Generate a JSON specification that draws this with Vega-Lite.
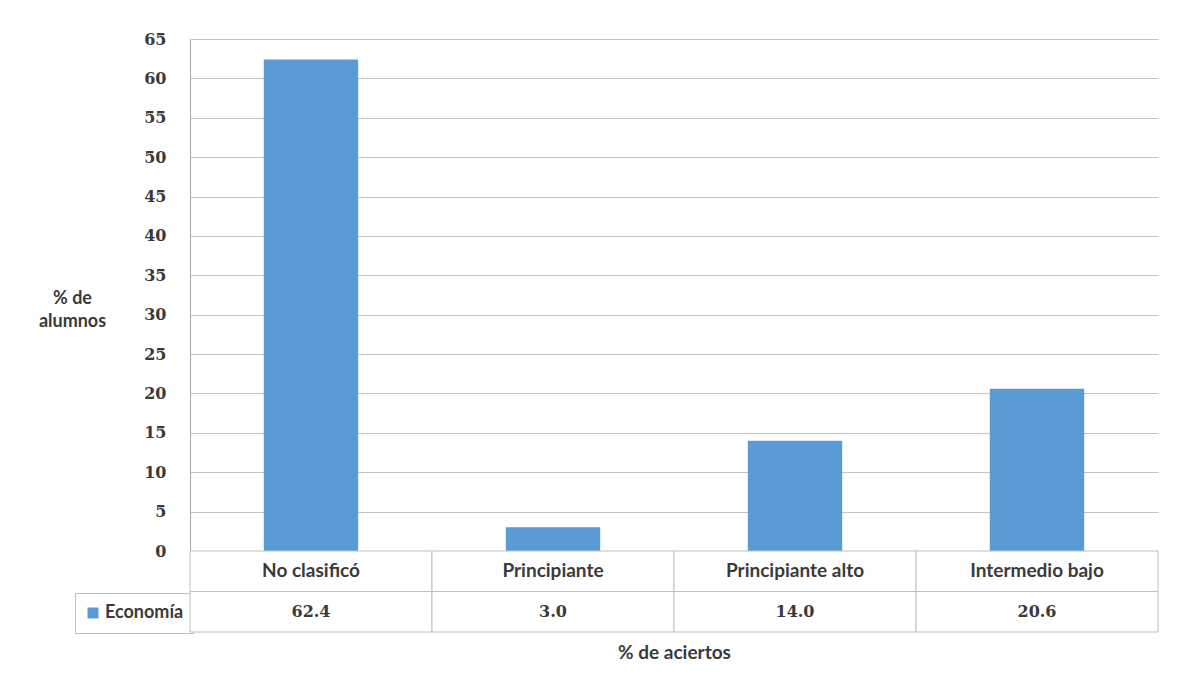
{
  "$schema": "https://vega.github.io/schema/vega-lite/v6.json",
  "padding": {"left": 38, "top": 31, "right": 20, "bottom": 10},
  "background": "white",
  "bounds": "flush",
  "spacing": 0,
  "config": {
    "view": {"stroke": null},
    "legend": {"labelFont": "Lato", "labelFontSize": 18, "labelFontWeight": "bold", "labelColor": "#3a3a3a"}
  },
  "resolve": {"scale": {"color": "independent"}},
  "datasets": {
    "d": [
      {"nivel": "No clasificó", "pct": 62.4, "serie": "Economía"},
      {"nivel": "Principiante", "pct": 3.0, "serie": "Economía"},
      {"nivel": "Principiante alto", "pct": 14.0, "serie": "Economía"},
      {"nivel": "Intermedio bajo", "pct": 20.6, "serie": "Economía"}
    ]
  },
  "vconcat": [
    {
      "width": 968,
      "height": 512,
      "data": {"name": "d"},
      "mark": {"type": "bar", "width": {"band": 0.39}},
      "encoding": {
        "x": {
          "field": "nivel", "type": "nominal",
          "sort": ["No clasificó", "Principiante", "Principiante alto", "Intermedio bajo"],
          "scale": {"paddingInner": 0, "paddingOuter": 0},
          "axis": null
        },
        "y": {
          "field": "pct", "type": "quantitative",
          "scale": {"domain": [0, 65], "nice": false},
          "axis": {
            "values": [0, 5, 10, 15, 20, 25, 30, 35, 40, 45, 50, 55, 60, 65],
            "title": ["% de", "alumnos"],
            "titleAngle": 0, "titleAlign": "center", "titleBaseline": "middle",
            "titleX": -118, "titleY": 259,
            "titleFont": "Lato", "titleFontSize": 18, "titleFontWeight": "bold",
            "titleColor": "#3a3a3a", "titleLineHeight": 23,
            "labelFont": "DejaVu Serif", "labelFontSize": 16, "labelFontWeight": "bold",
            "labelColor": "#3a3a3a", "labelPadding": 24,
            "ticks": false,
            "domainColor": "#a6a6a6",
            "grid": true, "gridColor": "#c4c4c4"
          }
        },
        "color": {
          "field": "serie", "type": "nominal",
          "scale": {"range": ["#5b9bd5"]},
          "legend": {
            "orient": "none", "legendX": -115, "legendY": 554,
            "title": null,
            "strokeColor": "#bfbfbf", "fillColor": "white", "padding": 9,
            "clipHeight": 22,
            "symbolType": "square", "symbolSize": 121, "symbolStrokeWidth": 0,
            "labelFont": "Lato", "labelFontSize": 18, "labelFontWeight": "bold",
            "labelColor": "#3a3a3a", "labelOffset": 3
          }
        }
      }
    },
    {
      "width": 968,
      "height": 81,
      "data": {"name": "d"},
      "encoding": {
        "x": {
          "field": "nivel", "type": "nominal",
          "sort": ["No clasificó", "Principiante", "Principiante alto", "Intermedio bajo"],
          "scale": {"paddingInner": 0, "paddingOuter": 0},
          "axis": {
            "title": "% de aciertos", "labels": false, "ticks": false, "domain": false,
            "titleFont": "Lato", "titleFontSize": 19, "titleFontWeight": "bold",
            "titleColor": "#3a3a3a", "titlePadding": 11
          }
        }
      },
      "layer": [
        {
          "mark": {"type": "rect", "fill": "white", "stroke": "#bfbfbf", "strokeWidth": 1},
          "encoding": {
            "y": {"datum": "Nivel", "type": "nominal",
                  "scale": {"domain": ["Nivel", "Economía"], "paddingInner": 0, "paddingOuter": 0},
                  "axis": null}
          }
        },
        {
          "mark": {"type": "rect", "fill": "white", "stroke": "#bfbfbf", "strokeWidth": 1},
          "encoding": {"y": {"datum": "Economía", "type": "nominal"}}
        },
        {
          "mark": {"type": "text", "font": "Lato", "fontSize": 19, "fontWeight": "bold", "color": "#3a3a3a"},
          "encoding": {"y": {"datum": "Nivel", "type": "nominal"}, "text": {"field": "nivel"}}
        },
        {
          "mark": {"type": "text", "font": "DejaVu Serif", "fontSize": 16, "fontWeight": "bold", "color": "#3a3a3a"},
          "encoding": {"y": {"datum": "Economía", "type": "nominal"}, "text": {"field": "pct", "format": ".1f"}}
        }
      ]
    }
  ]
}
